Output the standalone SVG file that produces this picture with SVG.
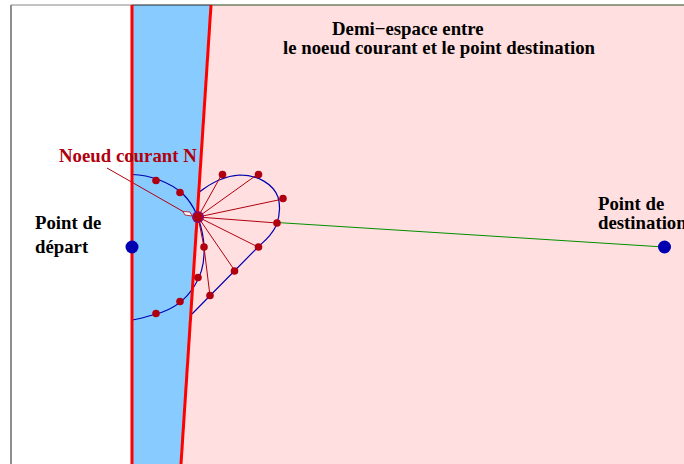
<svg xmlns="http://www.w3.org/2000/svg" width="684" height="464" viewBox="0 0 684 464">
<style>
text{font-family:"Liberation Serif","Times New Roman",serif;font-weight:bold;font-size:18.8px;fill:#000}
.curve{fill:none;stroke:#0000b0;stroke-width:1.2}
.spoke{fill:none;stroke:#b00010;stroke-width:1}
.dot{fill:#b00010}
.big{fill:#0000b0}
.wall{fill:none;stroke:#ff0000;stroke-width:3}
</style>
<g id="regions">
<rect x="0" y="0" width="684" height="464" fill="#fff"/>
<polygon points="211,5 684,5 684,464 181,464" fill="#ffdfdf"/>
<polygon points="132,5 211,5 181,464 132,464" fill="#88ccff"/>
<path d="M11,464V5" fill="none" stroke="#444" stroke-width="1.2"/>
<path d="M11,5H132" fill="none" stroke="#888" stroke-width="1.2"/>
<path d="M132,5H211" fill="none" stroke="#222" stroke-width="1.2"/>
<path d="M211,5H684" fill="none" stroke="#2a4a20" stroke-width="1.2"/>
</g>
<g id="connectors">
<path class="curve" d="M132,174.500C150,175 170,182 183,194C194,205 201,222 203.500,240C205.500,258 202,274 195,285C186,300 172,310 156,314C148,316 140,319 132,320"/>
<path class="curve" d="M198,193C208,185 222,176 240,175C258,175 273,184 278,197C281,208 280,216 276,226C270,238 262,243 258,247L192,314"/>
<path class="spoke" d="M198,217L222,174M198,217L258,174M198,217L283,199M198,217L277,223M198,217L258,247M198,217L235,271M198,217L204,247L210,296"/>
<path fill="none" stroke="#009000" stroke-width="1" d="M277,222.500L664,247"/>
<path class="spoke" d="M107,168L184,212"/>
<polygon points="183,211.500 190,212 192,216 185,215" fill="#fff" stroke="#b00010" stroke-width="0.8"/>
<path class="wall" d="M132,5V464"/>
<path class="wall" d="M211,5L181,464"/>
</g>
<g id="node-n">
<circle cx="198" cy="217" r="6" fill="#8a0a70"/>
<circle cx="198" cy="217" r="4.500" class="dot"/>
<text x="59" y="161.500" style="fill:#b00010">Noeud courant N</text>
</g>
<g id="samples">
<circle class="dot" cx="156" cy="180.500" r="3.800"/>
<circle class="dot" cx="180" cy="192.500" r="3.800"/>
<circle class="dot" cx="204" cy="247" r="3.800"/>
<circle class="dot" cx="198" cy="277.500" r="3.800"/>
<circle class="dot" cx="180" cy="301.500" r="3.800"/>
<circle class="dot" cx="156" cy="313.500" r="3.800"/>
<circle class="dot" cx="222.500" cy="174.500" r="3.800"/>
<circle class="dot" cx="258.500" cy="174.500" r="3.800"/>
<circle class="dot" cx="283" cy="198.500" r="3.800"/>
<circle class="dot" cx="277" cy="223" r="3.800"/>
<circle class="dot" cx="258.500" cy="247" r="3.800"/>
<circle class="dot" cx="234.500" cy="271" r="3.800"/>
<circle class="dot" cx="210" cy="295.500" r="3.800"/>
</g>
<g id="node-depart">
<circle class="big" cx="132" cy="247" r="6.500"/>
<text x="35" y="229">Point de</text>
<text x="35" y="253">départ</text>
</g>
<g id="node-destination">
<circle class="big" cx="664.500" cy="247" r="6.500"/>
<text x="598" y="210">Point de</text>
<text x="598" y="229">destination</text>
</g>
<g id="label-demi-espace">
<text x="332" y="35">Demi−espace entre</text>
<text x="283" y="54">le noeud courant et le point destination</text>
</g>
</svg>
